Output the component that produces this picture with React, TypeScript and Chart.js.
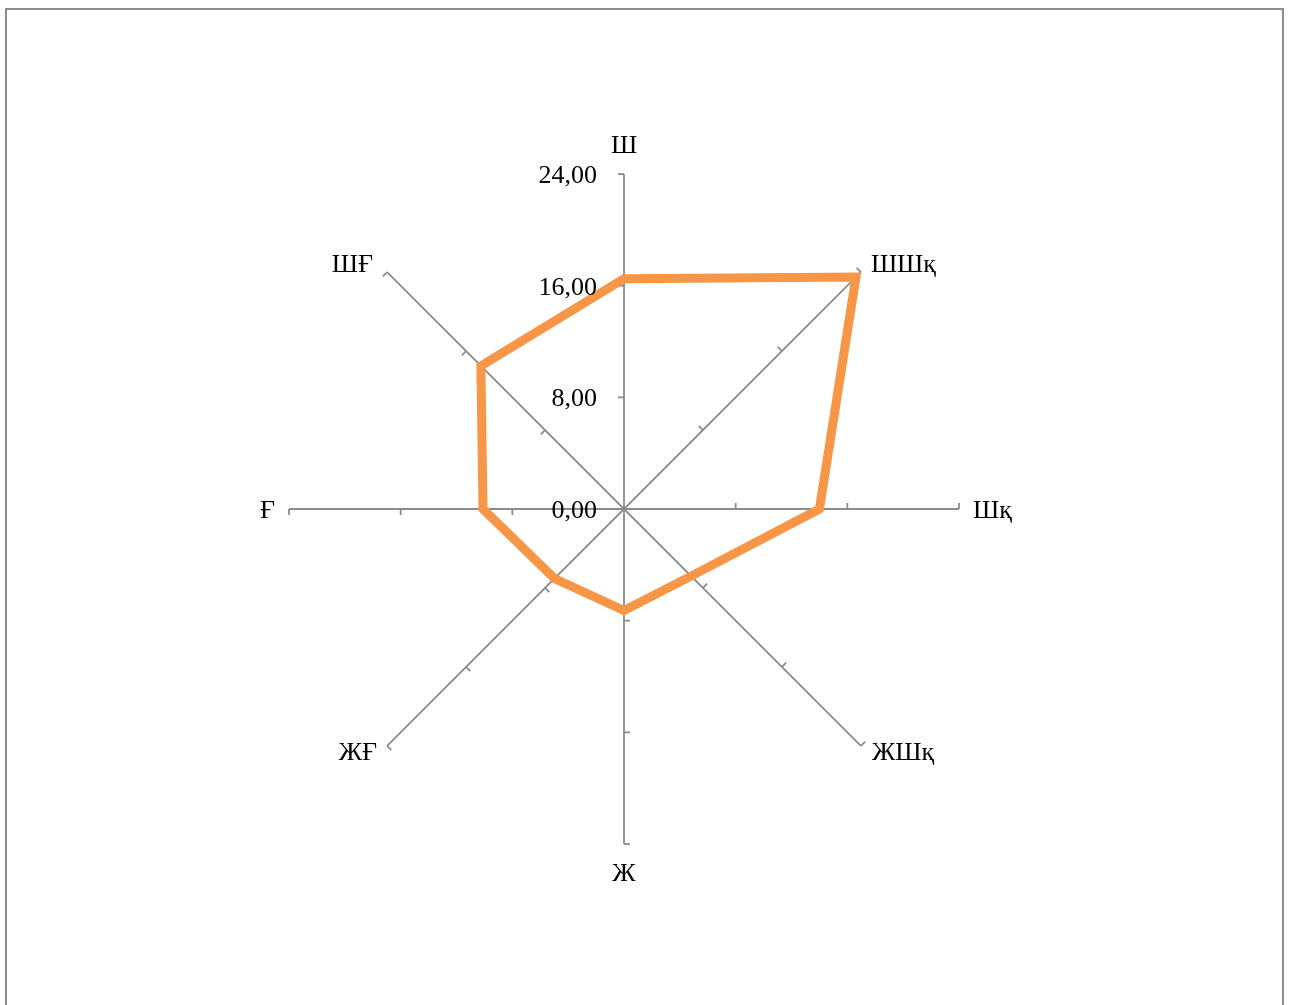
import React, { useEffect, useRef } from 'react';
import { Chart, registerables } from 'chart.js';

Chart.register(...registerables);

// ---- data ----
const categories = ['Ш', 'ШШқ', 'Шқ', 'ЖШқ', 'Ж', 'ЖҒ', 'Ғ', 'ШҒ'];
const seriesValues = [16.5, 23.5, 14.0, 6.8, 7.27, 7.05, 10.1, 14.5];
const tickValues = [0, 8, 16, 24];
const tickLabels = ['0,00', '8,00', '16,00', '24,00'];
const axisMin = 0;
const axisMax = 24;
const axisStep = 8;

// ---- styles ----
const FONT_FAMILY = '"Liberation Serif", "DejaVu Serif", "Times New Roman", serif';
const FONT_SIZE = 26;
const AXIS_COLOR = '#8c8c8c';
const AXIS_WIDTH = 1.8;
const LINE_COLOR = '#F79646';
const LINE_WIDTH = 9;
const TICK_LEN = 6;
// per category label offset from the spoke end: [dx, dyBaseline, align]
const LABEL_OFFSETS: [number, number, CanvasTextAlign][] = [
  [0, -21, 'center'],
  [10, 0, 'left'],
  [14, 9, 'left'],
  [11, 14, 'left'],
  [0, 37, 'center'],
  [-10, 14, 'right'],
  [-14, 9, 'right'],
  [-14, 0, 'right'],
];

export default function App() {
  const ref = useRef<HTMLCanvasElement | null>(null);

  useEffect(() => {
    document.documentElement.style.overflow = 'hidden';
    document.body.style.overflow = 'hidden';
    const canvas = ref.current;
    if (!canvas) return;

    const decor = {
      id: 'excelRadarDecor',
      beforeDatasetsDraw(chart: any) {
        const scale = chart.scales.r;
        const ctx = chart.ctx as CanvasRenderingContext2D;
        ctx.save();
        ctx.strokeStyle = AXIS_COLOR;
        ctx.lineWidth = AXIS_WIDTH;
        categories.forEach((_, i) => {
          const c = scale.getPointPositionForValue(i, axisMin);
          tickValues.forEach((v) => {
            if (v === axisMin) return;
            const p = scale.getPointPositionForValue(i, v);
            const len = Math.hypot(p.x - c.x, p.y - c.y);
            const dx = (p.x - c.x) / len;
            const dy = (p.y - c.y) / len;
            const tx = dy;
            const ty = -dx;
            ctx.beginPath();
            ctx.moveTo(p.x, p.y);
            ctx.lineTo(p.x + tx * TICK_LEN, p.y + ty * TICK_LEN);
            ctx.stroke();
          });
        });
        ctx.restore();
      },
      afterDatasetsDraw(chart: any) {
        const scale = chart.scales.r;
        const ctx = chart.ctx as CanvasRenderingContext2D;
        ctx.save();
        ctx.fillStyle = '#000000';
        ctx.font = `${FONT_SIZE}px ${FONT_FAMILY}`;
        ctx.textBaseline = 'alphabetic';
        // value axis labels (along first spoke)
        ctx.textAlign = 'right';
        tickValues.forEach((v, k) => {
          const p = scale.getPointPositionForValue(0, v);
          ctx.fillText(tickLabels[k], p.x - 27, p.y + 9);
        });
        // category labels
        categories.forEach((lab, i) => {
          const p = scale.getPointPositionForValue(i, axisMax);
          const [ox, oy, al] = LABEL_OFFSETS[i];
          ctx.textAlign = al;
          ctx.fillText(lab, p.x + ox, p.y + oy);
        });
        ctx.restore();
      },
    };

    const chart = new Chart(canvas, {
      type: 'radar',
      data: {
        labels: categories,
        datasets: [
          {
            data: seriesValues,
            borderColor: LINE_COLOR,
            backgroundColor: 'rgba(0,0,0,0)',
            borderWidth: LINE_WIDTH,
            borderJoinStyle: 'miter',
            pointRadius: 0,
            pointHoverRadius: 0,
            fill: false,
            tension: 0,
          },
        ],
      },
      options: {
        responsive: false,
        animation: false,
        layout: { padding: { left: 289, right: 332, top: 174, bottom: 161 } },
        plugins: { legend: { display: false }, tooltip: { enabled: false } },
        scales: {
          r: {
            min: axisMin,
            max: axisMax,
            ticks: { display: false, stepSize: axisStep },
            grid: { display: false },
            angleLines: { display: true, color: AXIS_COLOR, lineWidth: AXIS_WIDTH },
            pointLabels: { display: false },
          },
        },
      },
      plugins: [decor],
    } as any);

    return () => chart.destroy();
  }, []);

  return (
    <>
      <div
        style={{
          position: 'fixed',
          left: 5,
          top: 8,
          width: 1279,
          height: 1100,
          boxSizing: 'border-box',
          border: '2px solid #8c8c8c',
          background: '#ffffff',
        }}
      />
      <canvas
        ref={ref}
        width={1291}
        height={1005}
        style={{ position: 'fixed', left: 0, top: 0, width: 1291, height: 1005 }}
      />
    </>
  );
}
